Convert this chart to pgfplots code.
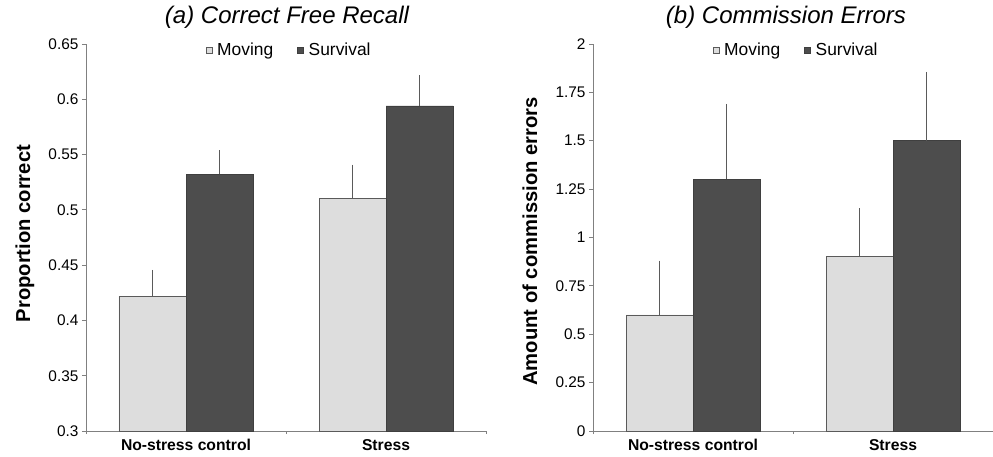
\documentclass[border=0pt]{standalone}
\usepackage{fontspec}
\setmainfont{Liberation Sans}
\usepackage{pgfplots}
\usepackage{pgfplotstable}
\pgfplotsset{compat=1.18}
\definecolor{lightbar}{HTML}{DDDDDD}
\definecolor{darkbar}{HTML}{4D4D4D}
\definecolor{axisgray}{HTML}{808080}
\definecolor{edgegray}{HTML}{5A5A5A}

\pgfplotstableread{
x mov merr sur serr
0 0.422 0.022 0.532 0.020
1 0.510 0.029 0.594 0.026
}\recall
\pgfplotstableread{
x mov merr sur serr
0 0.60 0.27 1.30 0.38
1 0.90 0.24 1.50 0.345
}\commission

\pgfplotsset{
 mystyle/.style={
  scale only axis, width=400pt, height=387pt,
  anchor=south west,
  ybar=0pt, bar width=67pt,
  xmin=-0.5, xmax=1.5,
  xtick={0,1}, xticklabels={No-stress control, Stress},
  minor xtick={-0.5,0.5,1.5},
  axis x line*=bottom, axis y line*=left,
  axis line style={axisgray, line width=0.8pt},
  tick align=outside,
  major x tick style={draw=none},
  minor tick length=3pt,
  major tick length=4pt,
  tick style={axisgray, line width=0.8pt},
  x tick label style={font=\fontsize{15.7}{18}\selectfont\bfseries, yshift=-1pt},
  y tick label style={font=\fontsize{15.4}{18}\selectfont},
  /pgf/number format/assume math mode=true,
  ylabel style={font=\fontsize{20.2}{24}\selectfont\bfseries, anchor=center},
  title style={font=\fontsize{24}{28}\selectfont\itshape, anchor=center},
  legend style={draw=none, fill=none, legend columns=2, font=\fontsize{17.4}{20}\selectfont, /tikz/every even column/.append style={column sep=22pt}, inner sep=0pt, anchor=center},
  legend image code/.code={\draw[#1] (0pt,-3pt) rectangle (6pt,3pt); \path[draw=none, fill=none] (9pt,0pt) circle (0pt);},
  error bars/error bar style={edgegray, line width=0.8pt},
  error bars/error mark options={edgegray, mark size=2pt, line width=0.8pt},
 }
}

\begin{document}
\begin{tikzpicture}
\path[use as bounding box] (0,0) rectangle (993pt,456pt);
\begin{axis}[mystyle, at={(86pt,25pt)},
  ymin=0.3, ymax=0.65,
  ytick={0.3,0.35,0.4,0.45,0.5,0.55,0.6,0.65},
  ylabel={Proportion correct},
  ylabel style={at={(axis description cs:-0.1525,0.51)}},
  title={(a) Correct Free Recall},
  title style={at={(axis description cs:0.5025,1.054)}},
  legend style={at={(axis description cs:0.508,0.984)}},
]
\addplot[fill=lightbar, draw=edgegray, line width=0.8pt, error bars/.cd, y dir=plus, y explicit] table[x=x, y=mov, y error=merr] {\recall};
\addplot[fill=darkbar, draw=edgegray!70!black, line width=0.8pt, error bars/.cd, y dir=plus, y explicit] table[x=x, y=sur, y error=serr] {\recall};
\legend{Moving, Survival}
\end{axis}
\begin{axis}[mystyle, at={(593pt,25pt)},
  ymin=0, ymax=2,
  ytick={0,0.25,0.5,0.75,1,1.25,1.5,1.75,2},
  ylabel={Amount of commission errors},
  ylabel style={at={(axis description cs:-0.1575,0.49)}},
  title={(b) Commission Errors},
  title style={at={(axis description cs:0.4825,1.054)}},
  legend style={at={(axis description cs:0.508,0.984)}},
]
\addplot[fill=lightbar, draw=edgegray, line width=0.8pt, error bars/.cd, y dir=plus, y explicit] table[x=x, y=mov, y error=merr] {\commission};
\addplot[fill=darkbar, draw=edgegray!70!black, line width=0.8pt, error bars/.cd, y dir=plus, y explicit] table[x=x, y=sur, y error=serr] {\commission};
\legend{Moving, Survival}
\end{axis}
\end{tikzpicture}
\end{document}
